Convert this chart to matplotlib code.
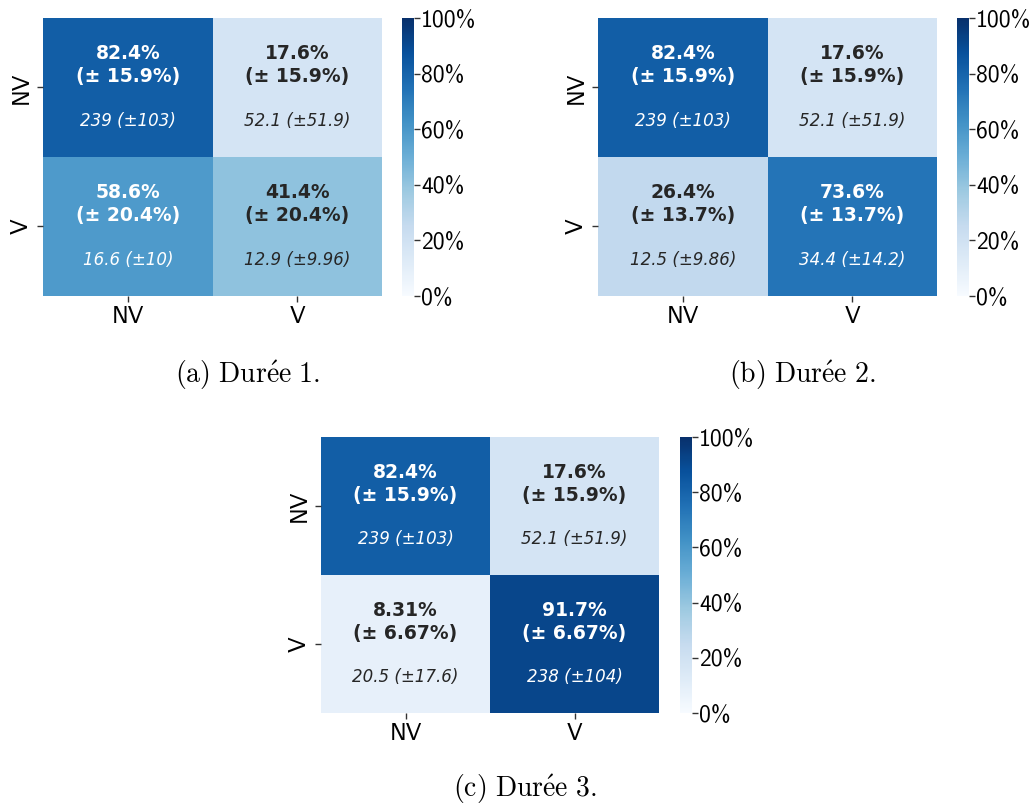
import numpy as np
import matplotlib
matplotlib.use("Agg")
import matplotlib.pyplot as plt
import seaborn as sns
from matplotlib.ticker import PercentFormatter

plt.rcParams['mathtext.fontset'] = 'cm'

labels = ["NV", "V"]
captions = [r"$\mathrm{(a)\ Dur\acute{e}e\ 1.}$",
            r"$\mathrm{(b)\ Dur\acute{e}e\ 2.}$",
            r"$\mathrm{(c)\ Dur\acute{e}e\ 3.}$"]

# row-normalised rates (%) and their std
rate_1 = [[82.4, 17.6], [58.6, 41.4]]
rate_std_1 = [[15.9, 15.9], [20.4, 20.4]]
count_1 = [["239", "52.1"], ["16.6", "12.9"]]
count_std_1 = [["103", "51.9"], ["10", "9.96"]]

rate_2 = [[82.4, 17.6], [26.4, 73.6]]
rate_std_2 = [[15.9, 15.9], [13.7, 13.7]]
count_2 = [["239", "52.1"], ["12.5", "34.4"]]
count_std_2 = [["103", "51.9"], ["9.86", "14.2"]]

rate_3 = [[82.4, 17.6], [8.31, 91.7]]
rate_std_3 = [[15.9, 15.9], [6.67, 6.67]]
count_3 = [["239", "52.1"], ["20.5", "238"]]
count_std_3 = [["103", "51.9"], ["17.6", "104"]]

panels = [
    (rate_1, rate_std_1, count_1, count_std_1),
    (rate_2, rate_std_2, count_2, count_std_2),
    (rate_3, rate_std_3, count_3, count_std_3),
]

W, H = 1036, 805
fig = plt.figure(figsize=(W / 100, H / 100), dpi=100)


def px_axes(x0, y0, x1, y1):
    return fig.add_axes([x0 / W, 1 - y1 / H, (x1 - x0) / W, (y1 - y0) / H])


def rel_lum(rgb):
    c = np.array(rgb[:3])
    c = np.where(c <= 0.03928, c / 12.92, ((c + 0.055) / 1.055) ** 2.4)
    return 0.2126 * c[0] + 0.7152 * c[1] + 0.0722 * c[2]


# pixel boxes: heatmap, colorbar, caption position
layout = [
    ((43, 18, 382, 296), (402, 18, 414, 296), (248, 375)),
    ((598, 18, 937, 296), (957, 18, 969, 296), (802, 375)),
    ((321, 437, 659, 713), (680, 437, 692, 713), (525, 789)),
]

sans = "cmss10"
cmap = plt.get_cmap("Blues")

for k, ((rate, rstd, cnt, cstd), (hbox, cbox, cap)) in enumerate(zip(panels, layout)):
    ax = px_axes(*hbox)
    cax = px_axes(*cbox)
    vals = np.array(rate) / 100.0
    sns.heatmap(vals, ax=ax, cbar_ax=cax, cmap="Blues", vmin=0, vmax=1,
                xticklabels=labels, yticklabels=labels)
    for i in range(2):
        for j in range(2):
            v = vals[i, j]
            col = "white" if rel_lum(cmap(v)) < 0.408 else "#262626"
            ax.text(j + 0.5, i + 0.34, f"{rate[i][j]:.3g}%\n(± {rstd[i][j]}%)",
                    ha="center", va="center", fontsize=13.5, fontweight="bold",
                    color=col, family="DejaVu Sans", linespacing=1.25)
            ax.text(j + 0.5, i + 0.74, f"{cnt[i][j]} (±{cstd[i][j]})",
                    ha="center", va="center", fontsize=12, style="italic",
                    color=col, family="DejaVu Sans")
    ax.tick_params(length=4, width=1, labelsize=17, color="#333333")
    ax.set_xticklabels(labels, family=sans)
    ax.set_yticklabels(labels, rotation=90, va="center", family=sans)
    cax.yaxis.set_major_formatter(PercentFormatter(1.0, decimals=0))
    cax.tick_params(length=4, width=1, labelsize=17, color="#333333", pad=1)
    for t in cax.get_yticklabels():
        t.set_family(sans)
    for s in cax.spines.values():
        s.set_visible(False)
    fig.text(cap[0] / W, 1 - cap[1] / H, captions[k],
             ha="center", va="center", fontsize=20)

fig.savefig("out.png", dpi=100)
